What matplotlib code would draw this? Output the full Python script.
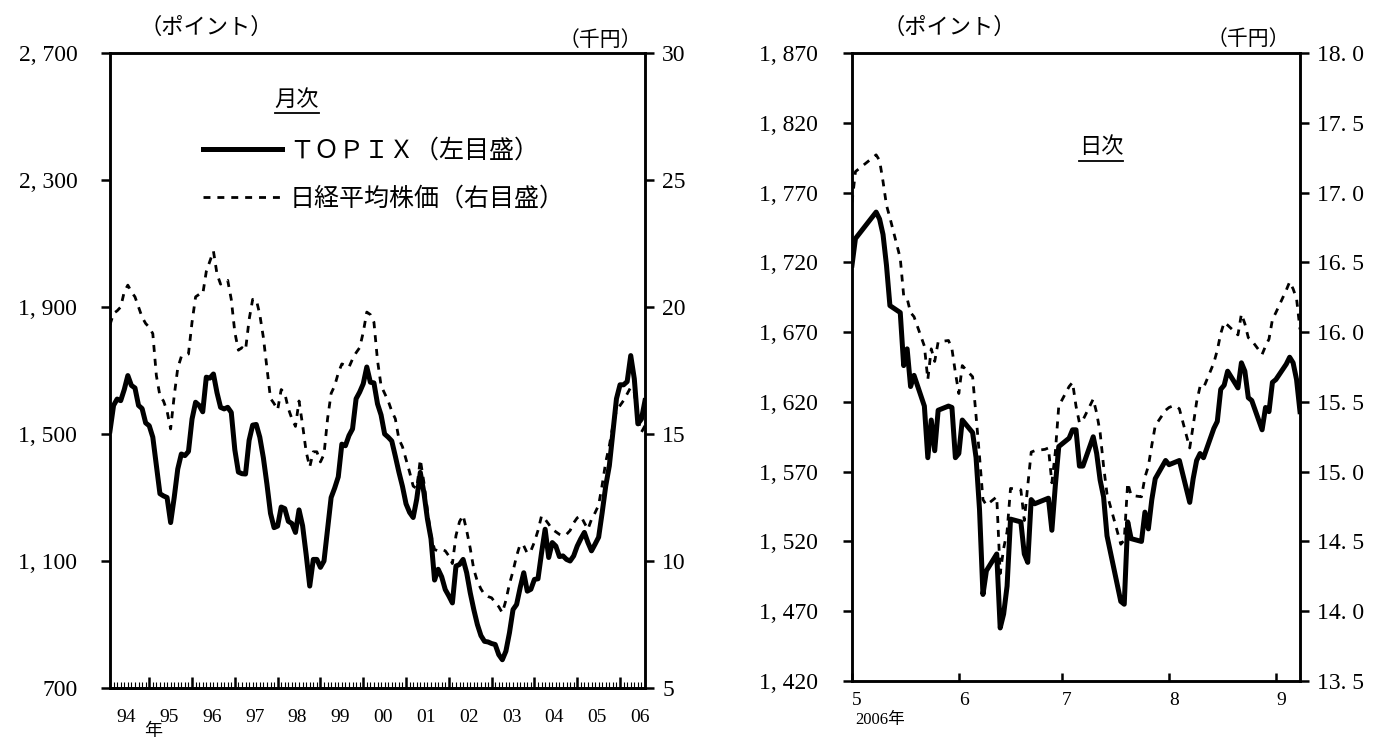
import numpy as np
import pandas as pd
import matplotlib
matplotlib.use("Agg")
import matplotlib.pyplot as plt
from matplotlib.lines import Line2D

plt.rcParams['font.family'] = ['Liberation Serif', 'Noto Sans CJK JP']

# monthly averages, Feb 1994 - Aug 2006
topix_monthly = [
    1510, 1590, 1610, 1605, 1640, 1684, 1653, 1645, 1590, 1580,
    1535, 1526, 1490, 1400, 1312, 1305, 1300, 1221, 1300, 1390,
    1437, 1432, 1445, 1547, 1600, 1590, 1570, 1679, 1676, 1689,
    1630, 1584, 1579, 1584, 1568, 1450, 1380, 1375, 1374, 1480,
    1528, 1530, 1490, 1425, 1342, 1250, 1205, 1210, 1270, 1265,
    1225, 1218, 1190, 1261, 1211, 1120, 1021, 1105, 1105, 1080,
    1100, 1200, 1300, 1330, 1365, 1468, 1463, 1495, 1516, 1611,
    1632, 1658, 1711, 1663, 1661, 1595, 1560, 1500, 1490, 1478,
    1430, 1380, 1335, 1280, 1253, 1237, 1295, 1379, 1316, 1232,
    1170, 1040, 1074, 1050, 1010, 990, 968, 1084, 1089, 1105,
    1063, 1000, 947, 900, 865, 847, 845, 840, 837, 805,
    789, 816, 874, 947, 963, 1016, 1063, 1005, 1011, 1042,
    1044, 1126, 1200, 1111, 1158, 1147, 1114, 1116, 1105, 1100,
    1116, 1147, 1170, 1190, 1158, 1132, 1153, 1175, 1253, 1337,
    1400, 1505, 1611, 1655, 1655, 1665, 1747, 1674, 1532, 1547, 1605,
]
nikkei_monthly = [
    19.3, 19.75, 19.85, 20.0, 20.6, 20.86, 20.6, 20.4, 20.0, 19.6,
    19.35, 19.2, 18.95, 17.3, 16.5, 16.3, 15.9, 15.2, 16.5, 17.6,
    18.05, 18.1, 18.15, 19.4, 20.4, 20.5, 20.5, 21.4, 21.8, 22.2,
    21.3, 20.9, 21.0, 21.05, 20.3, 19.0, 18.3, 18.4, 18.3, 19.5,
    20.3, 20.3, 19.7, 18.8, 17.6, 16.4, 16.2, 15.95, 16.75, 16.6,
    16.0, 15.6, 15.3, 16.3, 15.35, 14.3, 13.7, 14.3, 14.3, 13.9,
    14.2, 15.6, 16.6, 16.9, 17.4, 17.76, 17.7, 17.63, 17.95, 18.2,
    18.4, 19.0, 19.8, 19.7, 19.4, 17.9, 16.9, 16.6, 16.3, 15.9,
    15.6, 14.8, 14.5, 14.0, 13.5, 12.95, 12.85, 14.0, 13.1, 12.0,
    11.0, 10.45, 10.4, 10.45, 10.4, 10.2, 9.9, 11.0, 11.55, 11.8,
    11.2, 10.5, 9.67, 9.2, 8.9, 8.68, 8.6, 8.55, 8.36, 8.2,
    7.96, 8.45, 9.1, 9.6, 10.2, 10.66, 10.6, 10.3, 10.4, 10.75,
    11.2, 11.78, 11.64, 11.45, 11.25, 11.15, 11.05, 11.0, 11.05, 11.2,
    11.5, 11.7, 11.78, 11.5, 11.25, 11.64, 11.9, 12.2, 13.0, 13.9,
    14.54, 15.33, 15.92, 16.12, 16.32, 16.58, 16.84, 16.64, 15.59, 15.07, 15.33,
]
year_labels = ['94', '95', '96', '97', '98', '99', '00', '01', '02', '03', '04', '05', '06']

# daily closes, 1 May - 8 Sep 2006 (trading days)
holidays = ['2006-05-03', '2006-05-04', '2006-05-05', '2006-07-17']
topix_daily = [
    1718, 1737, 1756, 1751, 1740, 1718, 1689, 1684, 1646, 1658,
    1631, 1639, 1617, 1580, 1607, 1585, 1614, 1617, 1616, 1580,
    1583, 1607, 1598, 1580, 1543, 1482, 1499, 1511, 1458, 1468,
    1488, 1536, 1534, 1511, 1505, 1550, 1547, 1550, 1551, 1528,
    1560, 1588,
    1594, 1600, 1600, 1574, 1574, 1595, 1583, 1564, 1552, 1524,
    1477, 1475, 1534, 1522, 1520, 1541, 1529, 1550, 1565, 1578,
    1575, 1576, 1577, 1578, 1548, 1565, 1578, 1583, 1580, 1601,
    1606, 1629, 1632, 1642, 1630, 1648, 1642, 1623, 1621, 1600,
    1616, 1613, 1634,
    1636, 1647, 1652, 1648, 1636, 1613,
]
nikkei_daily = [
    16.93, 17.15, 17.27, 17.23, 17.08, 16.91, 16.82, 16.53, 16.26, 16.24,
    16.14, 16.11, 15.90, 15.66, 15.88, 15.79, 15.93, 15.94, 15.88, 15.71,
    15.56, 15.76, 15.68, 15.40, 15.11, 14.80, 14.76, 14.82, 14.27, 14.45,
    14.57, 14.88, 14.87, 14.65, 14.90, 15.14, 15.15, 15.16, 15.17, 14.92,
    15.14, 15.47,
    15.61, 15.64, 15.47, 15.35, 15.37, 15.52, 15.42, 15.28, 15.04, 14.84,
    14.48, 14.51, 14.92, 14.83, 14.82, 14.96, 15.04, 15.19, 15.33, 15.44,
    15.46, 15.47, 15.47, 15.45, 15.17, 15.33, 15.50, 15.61, 15.60, 15.78,
    15.87, 15.99, 16.07, 16.05, 15.98, 16.13, 16.06, 15.96, 15.94, 15.84,
    15.90, 15.95, 16.09,
    16.14, 16.30, 16.36, 16.31, 16.24, 16.02,
]
month_labels = ['5', '6', '7', '8', '9']

W, H = 1373, 738
fig = plt.figure(figsize=(W / 100, H / 100), dpi=100)

LW_AX = 1.8
TICK_FS = 17


def style_frame(ax):
    for s in ax.spines.values():
        s.set_linewidth(LW_AX)


def point_fmt(v):
    return f'{v:,}'.replace(',', ', ')


# ---------- left panel: monthly ----------
ax1 = fig.add_axes([110 / W, 1 - 688 / H, 535 / W, 635 / H])
x = np.arange(len(topix_monthly))
l1, = ax1.plot(x, topix_monthly, color='black', lw=3.6, solid_joinstyle='round')
ax1.set_xlim(0, len(x) - 1)
ax1.set_ylim(700, 2700)
yt = list(range(700, 2701, 400))
ax1.set_yticks(yt)
ax1.set_yticklabels([point_fmt(v) for v in yt], fontsize=TICK_FS)
ax1.tick_params(axis='y', direction='out', length=6.5, width=LW_AX, pad=17)

ax1.set_xticks(x, minor=True)
ax1.set_xticks([4.6 + 12 * j for j in range(len(year_labels))])
ax1.set_xticklabels(year_labels, fontsize=14)
ax1.tick_params(axis='x', which='major', length=0, pad=15)
ax1.tick_params(axis='x', which='minor', direction='in', length=4.5, width=0.8)
jan = [k for k in x if (k + 1) % 12 == 0]
sec = ax1.secondary_xaxis('bottom')
sec.set_xticks(jan)
sec.set_xticklabels([])
sec.tick_params(direction='in', length=8, width=1.8)
sec.spines['bottom'].set_linewidth(LW_AX)
ax1.text(12.0, -0.068, '年', transform=ax1.get_xaxis_transform(),
         ha='center', va='center', fontsize=13)

ax2 = ax1.twinx()
l2, = ax2.plot(x, nikkei_monthly, color='black', lw=2.0, linestyle=(0, (2.5, 2.5)))
ax2.set_ylim(5, 30)
ax2.set_yticks(range(5, 31, 5))
ax2.set_yticklabels([str(v) for v in range(5, 31, 5)], fontsize=TICK_FS)
ax2.tick_params(axis='y', direction='out', length=6.5, width=LW_AX, pad=6)
style_frame(ax1)
style_frame(ax2)

ax2.legend([l1, l2], ['ＴＯＰＩＸ（左目盛）', '日経平均株価（右目盛）'],
           loc='upper left', bbox_to_anchor=(203 / W, 1 - 139 / H),
           bbox_transform=fig.transFigure, frameon=False, fontsize=18,
           handlelength=3.15, handletextpad=0.32, labelspacing=0.95,
           borderpad=0, borderaxespad=0)

fig.text(206 / W, 1 - 28 / H, '（ポイント）', ha='center', va='center', fontsize=16)
fig.text(600 / W, 1 - 41 / H, '（千円）', ha='center', va='center', fontsize=15)
t_month = fig.text(297 / W, 1 - 100 / H, '月次', ha='center', va='center', fontsize=16)

# ---------- right panel: daily ----------
dates = pd.bdate_range('2006-05-01', '2006-09-08').drop(pd.to_datetime(holidays))
ax3 = fig.add_axes([852 / W, 1 - 681 / H, 448 / W, 628 / H])
ax3.plot(dates, topix_daily, color='black', lw=3.6, solid_joinstyle='round')
ax3.set_xlim(pd.Timestamp('2006-05-01'), pd.Timestamp('2006-09-08'))
ax3.set_ylim(1420, 1870)
yt3 = list(range(1420, 1871, 50))
ax3.set_yticks(yt3)
ax3.set_yticklabels([point_fmt(v) for v in yt3], fontsize=TICK_FS)
ax3.tick_params(axis='y', direction='out', length=6.5, width=LW_AX, pad=18)
month_starts = pd.date_range('2006-05-01', periods=len(month_labels), freq='MS')
ax3.set_xticks(month_starts)
ax3.set_xticklabels(month_labels, ha='left', fontsize=14)
ax3.tick_params(axis='x', direction='in', length=5.5, width=LW_AX, pad=8)

ax4 = ax3.twinx()
ax4.plot(dates, nikkei_daily, color='black', lw=2.0, linestyle=(0, (2.5, 2.5)))
ax4.set_ylim(13.5, 18.0)
yt4 = np.arange(13.5, 18.01, 0.5)
ax4.set_yticks(yt4)
ax4.set_yticklabels([f'{v:.1f}'.replace('.', '. ') for v in yt4], fontsize=TICK_FS)
ax4.tick_params(axis='y', direction='out', length=6.5, width=LW_AX, pad=6)
style_frame(ax3)
style_frame(ax4)

fig.text(949 / W, 1 - 28 / H, '（ポイント）', ha='center', va='center', fontsize=16)
fig.text(1248 / W, 1 - 40 / H, '（千円）', ha='center', va='center', fontsize=15)
t_day = fig.text(1101 / W, 1 - 148 / H, '日次', ha='center', va='center', fontsize=16)
fig.text(855 / W, 1 - 720 / H, '2006年', ha='left', va='center', fontsize=12)

# underline the panel captions
fig.canvas.draw()
renderer = fig.canvas.get_renderer()
for t in (t_month, t_day):
    bb = t.get_window_extent(renderer).transformed(fig.transFigure.inverted())
    fig.add_artist(Line2D([bb.x0, bb.x1], [bb.y0 - 0.004, bb.y0 - 0.004],
                          color='black', lw=1.3, transform=fig.transFigure))

fig.savefig('out.png', dpi=100)
